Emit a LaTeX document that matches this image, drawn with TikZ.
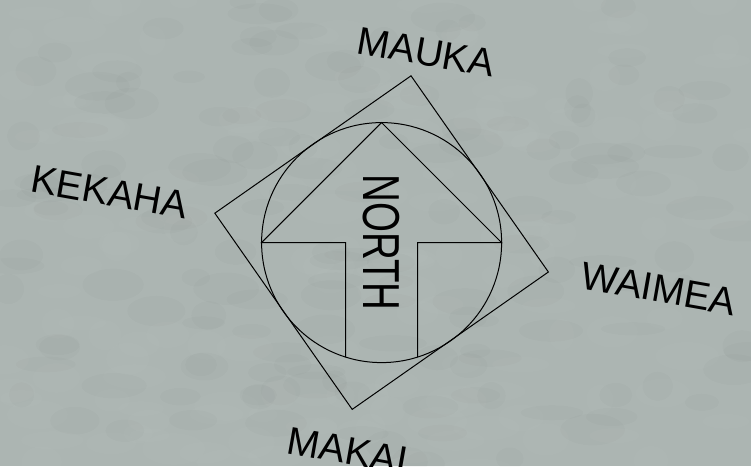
\documentclass[tikz,border=0pt]{standalone}
\usepackage{fontspec}
\setmainfont{Liberation Sans}
\usepackage{tikz}
\usetikzlibrary{calc}
\definecolor{bgcol}{RGB}{172,181,178}
\tikzset{
  lbl/.style={font=\fontsize{39}{41}\selectfont,rotate=-10,anchor=base west,inner sep=0pt},
  nlbl/.style={font=\fontsize{52}{54}\selectfont,rotate=-90,inner sep=0pt},
  ln/.style={line width=1pt,line join=miter}
}
\begin{document}
\begin{tikzpicture}[x=1pt,y=1pt]
\useasboundingbox (0,0) rectangle (751,466);
\clip (0,0) rectangle (751,466);
\fill[bgcol] (0,0) rectangle (751,466);
\pgfmathsetseed{7}
\foreach \i in {1,...,160}{
  \fill[white,opacity=0.025] (rnd*751,rnd*466) ellipse ({12+rnd*22} and {6+rnd*10});
  \fill[black,opacity=0.015] (rnd*751,rnd*466) ellipse ({12+rnd*22} and {6+rnd*10});
}
\coordinate (c) at (381.6,223.4);
% square and circle
\draw[ln,rotate around={35:(c)}] ($(c)+(-119.75,-119.75)$) rectangle ++(239.5,239.5);
\draw[ln] (c) circle (120);
% arrow
\coordinate (tip) at ($(c)+(0,120)$);
\coordinate (hl) at ($(c)+(-120,0)$);
\coordinate (hr) at ($(c)+(120,0)$);
\coordinate (sl) at ($(c)+(-36,0)$);
\coordinate (sr) at ($(c)+(36,0)$);
\coordinate (bl) at ($(c)+(-36,-114.5)$);
\coordinate (br) at ($(c)+(36,-114.5)$);
\draw[ln] (bl) -- (sl) -- (hl) -- (tip) -- (hr) -- (sr) -- (br);
\node[nlbl] (north) at (c) {\scalebox{0.74}[1]{NORTH}};
% labels
\node[lbl] (mauka)  at (355.3,412.7) {MAUKA};
\node[lbl] (kekaha) at (29,274.4)    {KEKAHA};
\node[lbl] (waimea) at (579,177.7)   {WAIMEA};
\node[lbl] (makai)  at (285.3,12.7)  {MAKAI};
\end{tikzpicture}
\end{document}
